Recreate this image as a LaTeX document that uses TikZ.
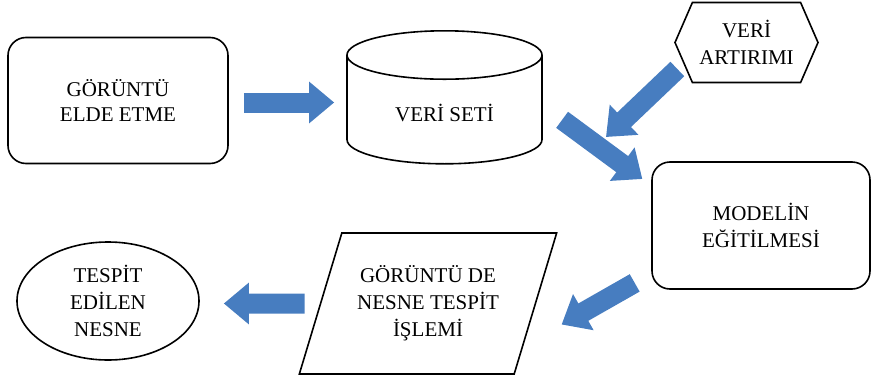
\documentclass[tikz,border=0pt]{standalone}
\usepackage{fontspec}
\setmainfont{Liberation Serif}
\usetikzlibrary{arrows.meta,positioning,shapes.geometric,shapes.symbols,calc}
\definecolor{flowblue}{RGB}{71,125,192}

\begin{document}
\begin{tikzpicture}[
    x=1pt, y=-1pt,
    every node/.style={font=\fontsize{21}{27}\selectfont, align=center, text=black},
    rbox/.style={draw, line width=1.6pt, rounded corners=18pt,
                 minimum width=220pt, minimum height=126pt},
    cyl/.style={draw, line width=1.6pt, cylinder, shape border rotate=90,
                aspect=0.46, minimum width=195pt, minimum height=133pt},
    hexa/.style={draw, line width=1.6pt, signal, signal to=west and east,
                 signal pointer angle=133, minimum width=143pt, minimum height=80pt},
    para/.style={draw, line width=1.6pt, trapezium, trapezium left angle=66,
                 trapezium right angle=114, trapezium stretches=true,
                 minimum width=258pt, minimum height=141pt},
    oval/.style={draw, line width=1.6pt, ellipse, inner sep=0pt,
                 minimum width=182pt, minimum height=118pt},
    blockarr/.style={draw=flowblue, line width=20pt,
                     -{Triangle[length=25pt,width=40pt]}}
  ]
  \useasboundingbox (0,0) rectangle (873,383);

  %% ---- top row ----
  \node[rbox, font=\fontsize{21}{25}\selectfont] (goruntu) at (118,100.5) {GÖRÜNTÜ\\ELDE ETME};
  \node[cyl, anchor=top] (veri) at (444.5,30) {VERİ SETİ};
  \node[hexa] (artirim) at (746.5,42.5) {VERİ\\ARTIRIMI};

  %% ---- right / bottom row ----
  \node[rbox, minimum width=218pt, minimum height=127pt] (model) at (761,225.5) {MODELİN\\EĞİTİLMESİ};
  \node[para] (tespit) at (428,303.5) {GÖRÜNTÜ DE\\NESNE TESPİT\\İŞLEMİ};
  \node[oval] (nesne)  at (108,301)   {TESPİT\\EDİLEN\\NESNE};

  \coordinate (augtip) at (606,137);

  %% ---- block arrows ----
  \draw[blockarr, shorten <=15pt, shorten >=12pt]
    ([yshift=-2pt]goruntu.east) -- ([yshift=-2pt]goruntu.east -| veri.west);
  \draw[blockarr, shorten <=8pt]
    ($(artirim.west)+(9,21)$) -- (augtip);
  \draw[blockarr, shorten <=25pt, shorten >=11pt]
    ($(veri.top)+(97.5,75)$) -- ($(model.west)+(0,-40)$);
  \draw[blockarr, shorten <=19pt, shorten >=44pt]
    ($(model.west)+(0,48)$) -- ($(tespit.top right corner)!.8!(tespit.bottom right corner)$);
  \draw[blockarr, shorten <=15pt, shorten >=24pt]
    ($(tespit.top left corner)!.5!(tespit.bottom left corner)$) -- (nesne.east |- tespit.center);

\end{tikzpicture}
\end{document}
